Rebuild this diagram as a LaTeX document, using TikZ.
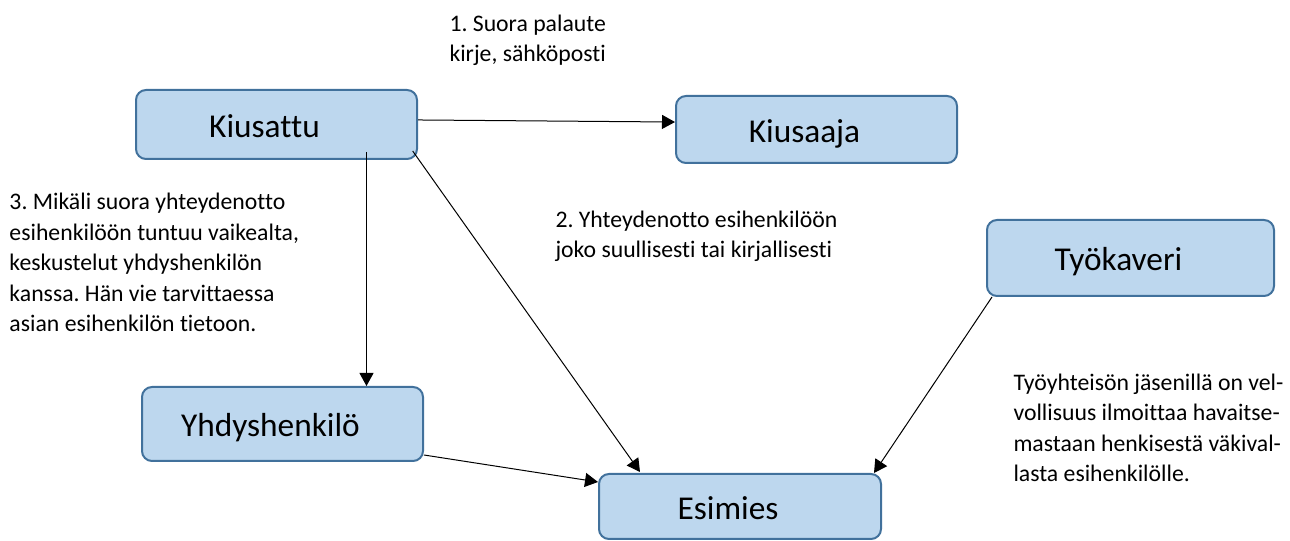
\documentclass[tikz,border=0pt]{standalone}
\usepackage{fontspec}
\setmainfont{Carlito}[Ligatures=NoCommon]
\usetikzlibrary{arrows.meta}
\frenchspacing

\definecolor{boxfill}{HTML}{BDD7EE}
\definecolor{boxline}{HTML}{41719C}

\begin{document}
\begin{tikzpicture}[x=0.75pt,y=-0.75pt,
  ->,>={Triangle[length=9.75pt,width=10.5pt]},line width=0.75pt,
  party node/.style={rectangle,rounded corners=7.5pt,draw=boxline,
    line width=1.5pt,fill=boxfill,font=\fontsize{25}{30}\selectfont,
    minimum width=210.75pt,inner sep=0pt,text height=19.5pt,text depth=0pt,
    execute at end node={\hspace*{18pt}}},
  note node/.style={anchor=base west,align=left,inner sep=0pt,
    font=\fontsize{17.8}{22.9}\selectfont}]

  \useasboundingbox (0,0) rectangle (1290,541);

  \node[party node,minimum height=51.75pt] (kiusattu) at (276.5,124.5) {Kiusattu};
  \node[party node,minimum height=50.25pt] (kiusaaja) at (816.5,129.5) {Kiusaaja};
  \node[party node,minimum width=215.25pt,minimum height=57pt] (tyokaveri) at (1130.5,258) {Työkaveri};
  \node[party node,minimum height=55.5pt] (yhdys) at (282.5,424) {Yhdyshenkilö};
  \node[party node,minimum width=211.5pt,minimum height=48.75pt] (esimies) at (740,506.5) {Esimies};

  % notes, placed at the baseline of their last line
  \node[note node] (suora) at (449,62) {1. Suora palaute\\kirje, sähköposti};
  \node[note node] (yhteys) at (555,258) {2. Yhteydenotto esihenkilöön\\joko suullisesti tai kirjallisesti};
  \node[note node] (mikali) at (9,332) {3. Mikäli suora yhteydenotto\\esihenkilöön tuntuu vaikealta,\\keskustelut yhdyshenkilön\\kanssa. Hän vie tarvittaessa\\asian esihenkilön tietoon.};
  \node[note node] (velvollisuus) at (1013,482) {Työyhteisön jäsenillä on vel-\\vollisuus ilmoittaa havaitse-\\mastaan henkisestä väkival-\\lasta esihenkilölle.};

  % suora palaute
  \draw ([yshift=3.4pt]kiusattu.east) -- ([yshift=5.6pt]kiusaaja.west);
  % yhdyshenkilön kautta
  \draw ([xshift=67.5pt,yshift=6pt]kiusattu.south) -- ([xshift=63pt]yhdys.north);
  \draw ([yshift=5.25pt]yhdys.south east) -- ([yshift=-6.75pt]esimies.north west);
  % suoraan esihenkilölle
  \draw ([xshift=-4pt,yshift=6.75pt]kiusattu.south east) -- ([xshift=-75pt,yshift=0.75pt]esimies.north);
  % työkaveri
  \draw ([xshift=4.5pt]tyokaveri.south west) -- ([xshift=-6pt]esimies.north east);

\end{tikzpicture}
\end{document}
